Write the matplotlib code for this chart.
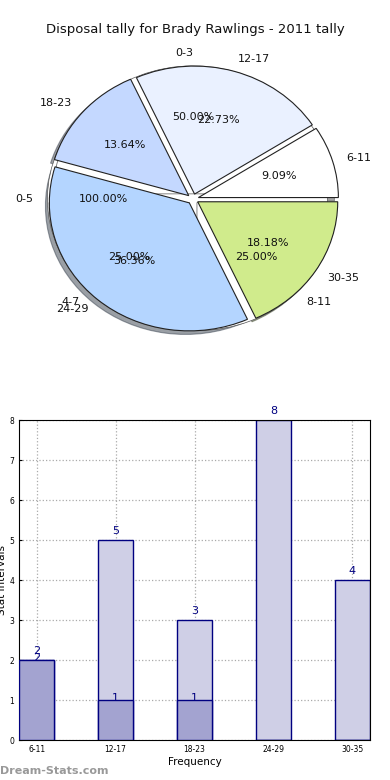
import matplotlib
matplotlib.use('Agg')
import matplotlib.pyplot as plt
import numpy as np

# data
pie_labels = ['6-11', '12-17', '18-23', '24-29', '30-35']
pie_values = [2, 5, 3, 8, 4]
pie_colors = ['#ffffff', '#eaf1ff', '#c4d8ff', '#b4d5ff', '#d0eb8c']

pie2_labels = ['0-3', '4-7', '8-11']
pie2_values = [2, 1, 1]

pie3_labels = ['0-5']
pie3_values = [1]

bar_cats = ['6-11', '12-17', '18-23', '24-29', '30-35']
bar_total = [2, 5, 3, 8, 4]
bar_sub = [2, 1, 1, 0, 0]

W, H = 390, 780
fig = plt.figure(figsize=(W / 100, H / 100), dpi=100)

fig.text(0.5, 1 - 30 / H, 'Disposal tally for Brady Rawlings - 2011 tally',
         ha='center', va='center', fontsize=9.5, color='#111111')

# pie axes: center (193,199), ~140 px per unit horizontally, ~128 vertically
sx, sy, lim = 140, 128, 1.3
cx, cy = 193, 199
axp = fig.add_axes([(cx - lim * sx) / W, (H - cy - lim * sy) / H,
                    2 * lim * sx / W, 2 * lim * sy / H])
tp = dict(fontsize=8, color='#111111')
wp_under = dict(facecolor='white', edgecolor='#555555', linewidth=0.5)

axp.pie(pie3_values, labels=pie3_labels, explode=[0.04],
        autopct='%.2f%%', startangle=0, wedgeprops=wp_under, textprops=tp)
axp.pie(pie2_values, labels=pie2_labels, explode=[0.04] * 3,
        autopct='%.2f%%', startangle=0, wedgeprops=wp_under, textprops=tp)
axp.pie(pie_values, labels=pie_labels, colors=pie_colors, explode=[0.04] * 5,
        autopct='%.2f%%', startangle=0, shadow=True,
        wedgeprops=dict(edgecolor='#222222', linewidth=0.8), textprops=tp)
axp.set_aspect('auto')
axp.set_xlim(-lim, lim)
axp.set_ylim(-lim, lim)
axp.axis('off')

# bar axes
axb = fig.add_axes([19 / W, (H - 740) / H, 351 / W, 320 / H])
x = np.arange(len(bar_cats))
bw = 0.45
axb.bar(x, bar_total, width=bw, color='#cfcfe6', edgecolor='#000080', linewidth=1.0, zorder=2)
axb.bar(x, bar_sub, width=bw, color='#a3a3d0', edgecolor='#000080', linewidth=1.0, zorder=3)
for xi, v in zip(x, bar_total):
    axb.text(xi, v + 0.22, str(v), ha='center', va='center', fontsize=8, color='#000080', zorder=4)
for xi, v in zip(x, bar_sub):
    if v > 0:
        axb.text(xi, v + 0.04, str(v), ha='center', va='center', fontsize=8, color='#000080', zorder=4)
axb.set_xlim(-bw / 2, len(bar_cats) - 1 + bw / 2)
axb.set_ylim(0, 8)
axb.set_xticks(x)
axb.set_xticklabels(bar_cats)
axb.set_yticks(range(9))
axb.tick_params(labelsize=5.5, length=2, direction='in')
axb.grid(True, linestyle=':', color='#aaaaaa', linewidth=0.9, zorder=0)
axb.set_axisbelow(True)
axb.set_xlabel('Frequency', fontsize=7.5, labelpad=2)
axb.set_ylabel('Stat Intervals', fontsize=7.5)
axb.yaxis.set_label_coords(-0.035, 0.5)

fig.text(0.0, 1 - 771 / H, 'Dream-Stats.com', ha='left', va='center',
         fontsize=8, color='#999999', fontweight='bold')

fig.savefig('out.png', dpi=100)
